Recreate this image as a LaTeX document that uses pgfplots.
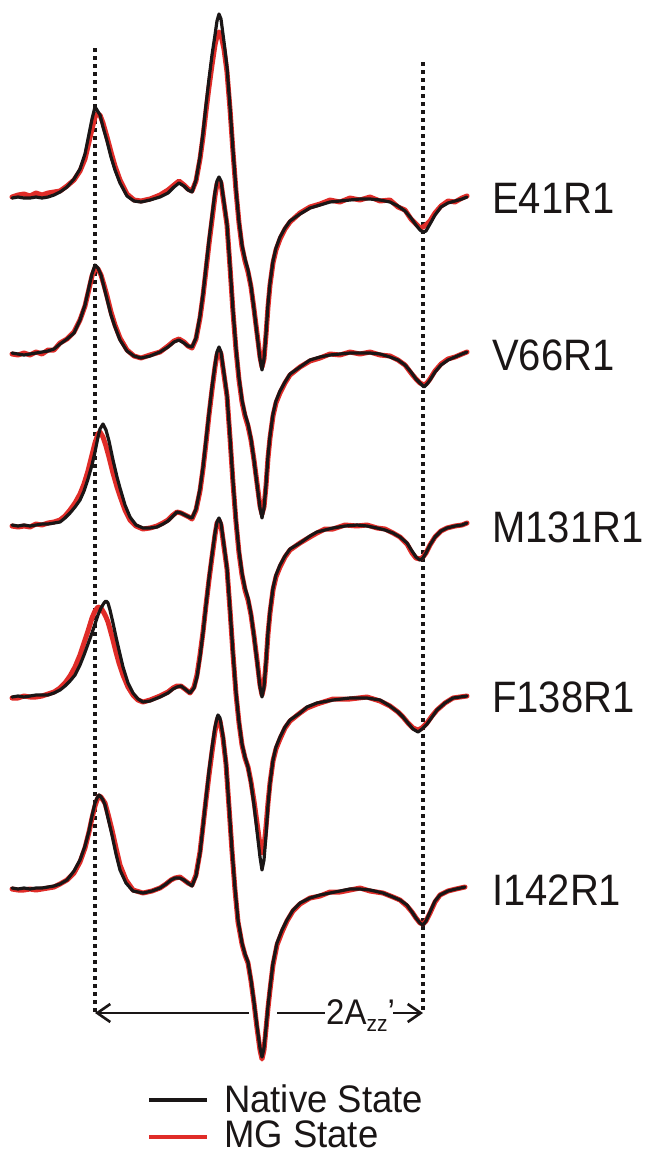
\documentclass[border=0pt]{standalone}
\usepackage{fontspec}
\setmainfont{Liberation Sans}
\usepackage{pgfplots}
\usepackage{pgfplotstable}
\pgfplotsset{compat=1.18}
\usetikzlibrary{arrows.meta}
\definecolor{mgred}{RGB}{224,44,40}
\definecolor{natblk}{RGB}{26,22,22}

% x in picture pixels, k = native (black), r = MG (red): offset from the trace baseline, downwards
\pgfplotstableread{
x k r
12 1 0
18 0 -2
24 1 -3
30 1 -1
36 0 -4
42 1 -2
48 0 -4
54 -2 -5
60 -5 -6
67 -10 -11
74 -18 -17
80 -28 -26
85 -43 -38
89 -63 -55
92 -78 -68
95 -90 -80
97 -87 -83
100 -82 -82
103 -70 -74
107 -56 -60
111 -40 -45
115 -27 -31
120 -14 -17
127 -1 -3
134 4 3
141 5 4
150 3 2
160 0 -2
168 -4 -7
174 -10 -12
179 -14 -16
184 -11 -12
188 -7 -8
192 -5 -6
196 -17 -16
200 -40 -38
203 -64 -60
206 -92 -86
209 -118 -110
212 -142 -132
215 -162 -152
217 -176 -161
219 -183 -165
221 -178 -162
224 -155 -148
227 -130 -125
230 -90 -88
233 -47 -45
236 -8 -6
239 25 26
242 48 50
245 62 64
248 73 75
251 89 90
254 112 112
257 137 136
260 162 160
262 173 170
264 162 162
266 137 138
268 107 110
270 86 88
273 64 66
276 51 53
280 40 42
285 31 32
290 24 25
300 17 16
310 11 10
320 8 7
330 5 3
340 4 5
350 3 1
360 2 3
370 2 0
380 3 4
390 5 3
398 9 10
405 14 13
411 21 22
416 28 27
420 33 31
423 35 30
426 34 28
430 27 24
435 18 16
441 10 9
448 6 4
455 4 5
462 2 1
467 0 -1
}\tA

\pgfplotstableread{
x k r
12 1 2
18 2 3
24 3 1
30 2 3
36 1 0
42 0 2
48 -1 -2
54 -3 -2
60 -8 -9
67 -13 -13
74 -19 -20
80 -32 -32
85 -47 -46
89 -65 -63
92 -78 -76
95 -87 -84
98 -84 -83
101 -77 -77
104 -65 -67
107 -53 -56
111 -37 -40
115 -25 -27
120 -12 -14
127 -1 -2
134 4 4
141 6 6
150 4 3
160 0 0
168 -5 -6
174 -10 -11
179 -12 -13
184 -9 -10
188 -6 -6
192 -5 -4
196 -14 -13
200 -36 -34
203 -58 -56
206 -85 -82
209 -112 -108
212 -136 -132
215 -160 -156
217 -171 -168
219 -175 -172
221 -171 -169
224 -150 -148
227 -128 -127
230 -86 -85
233 -42 -40
236 -4 -2
239 26 28
242 48 50
245 62 64
248 72 74
251 87 88
254 108 108
257 132 131
260 156 154
262 166 162
264 156 155
266 133 134
268 104 106
270 84 86
273 62 64
276 49 51
280 39 41
285 30 31
290 22 23
300 15 15
310 8 9
320 5 6
330 3 2
340 2 3
350 1 0
360 1 2
370 1 0
380 2 3
390 5 4
398 8 8
405 13 13
411 20 21
416 27 27
420 31 31
424 35 33
427 32 31
430 28 27
435 20 19
441 13 12
448 8 7
455 5 5
462 2 2
467 0 0
}\tB

\pgfplotstableread{
x k r
12 0 1
18 1 2
24 0 1
30 1 2
36 0 -1
42 -1 0
48 -1 -2
54 -2 -3
60 -3 -5
65 -7 -9
70 -12 -15
75 -18 -22
80 -25 -31
84 -34 -41
88 -46 -54
92 -60 -70
95 -73 -82
98 -88 -91
100 -96 -93
103 -101 -88
106 -95 -79
109 -84 -68
113 -65 -52
117 -48 -38
120 -37 -29
125 -20 -15
130 -8 -5
136 0 1
143 3 4
150 3 3
157 2 1
163 -1 -2
168 -4 -5
173 -9 -10
177 -13 -13
181 -12 -12
185 -10 -10
189 -8 -8
192 -7 -6
196 -16 -15
200 -36 -34
203 -58 -56
206 -85 -82
209 -112 -110
212 -138 -135
215 -160 -158
217 -173 -170
219 -178 -175
221 -173 -171
224 -152 -150
227 -130 -129
230 -88 -87
233 -44 -42
236 -5 -3
239 26 28
242 48 50
245 63 65
248 73 75
251 89 90
254 111 111
257 136 135
260 162 160
262 172 170
264 162 161
266 137 138
268 107 109
270 86 88
273 63 65
276 50 52
280 40 42
285 31 32
290 24 25
300 18 18
310 11 12
317 7 8
325 5 4
333 3 4
345 1 0
357 0 1
367 1 0
377 3 3
385 5 4
393 8 8
400 12 12
407 18 19
412 26 28
416 32 33
420 35 34
423 33 32
426 28 28
430 20 20
435 12 12
441 6 6
447 3 3
455 1 1
462 0 0
467 -2 -2
}\tC

\pgfplotstableread{
x k r
12 2 3
18 1 3
24 2 1
30 1 2
36 0 2
42 0 1
48 0 -1
54 -2 -3
60 -5 -7
65 -9 -12
70 -14 -19
75 -20 -28
80 -30 -40
84 -40 -52
88 -51 -64
92 -62 -77
95 -71 -84
98 -80 -88
101 -87 -87
104 -92 -82
106 -94 -78
108 -92 -73
110 -85 -66
113 -72 -55
116 -58 -43
119 -45 -32
123 -28 -20
128 -12 -8
133 -2 0
138 4 5
143 7 7
150 6 5
160 2 1
168 -2 -3
173 -6 -7
177 -8 -9
181 -9 -9
185 -6 -6
190 -2 -2
194 -7 -8
197 -18 -20
200 -38 -40
203 -62 -63
206 -90 -90
209 -117 -115
212 -140 -138
215 -162 -160
217 -173 -172
219 -177 -175
221 -172 -170
224 -150 -148
227 -127 -126
230 -86 -85
233 -42 -41
236 -3 -1
239 27 28
242 49 50
245 62 63
248 72 72
251 88 87
254 110 106
257 136 128
260 162 150
262 175 158
264 165 152
266 140 132
268 110 108
270 88 88
273 65 66
276 52 54
280 42 44
285 32 33
290 25 26
300 18 18
307 12 13
317 8 9
333 5 4
350 3 4
367 3 2
380 5 6
390 11 11
398 17 17
403 22 22
408 28 28
413 34 33
418 37 35
422 34 33
427 29 28
432 22 21
437 15 15
445 8 8
453 3 3
460 2 2
467 1 1
}\tD

\pgfplotstableread{
x k r
12 0 1
18 1 2
24 0 2
30 1 1
36 0 2
42 0 1
48 -1 0
54 -2 -1
60 -4 -4
67 -8 -8
74 -17 -15
80 -28 -26
85 -42 -40
89 -57 -56
92 -72 -70
95 -85 -82
97 -90 -88
99 -93 -92
101 -91 -91
103 -88 -88
105 -83 -85
108 -70 -74
112 -53 -58
116 -34 -40
120 -18 -23
126 -5 -8
133 3 2
143 5 5
152 3 3
160 0 0
166 -4 -4
171 -8 -8
175 -10 -10
180 -10 -11
184 -8 -8
188 -5 -5
192 -2 -3
196 -12 -13
200 -35 -36
203 -62 -62
206 -90 -88
209 -117 -113
212 -140 -136
215 -161 -157
217 -170 -167
218 -173 -170
220 -170 -167
223 -152 -150
226 -125 -124
229 -82 -81
232 -38 -37
235 0 2
238 32 34
242 55 56
245 66 67
248 74 75
251 92 93
254 114 115
257 138 140
260 160 162
262 169 171
264 160 162
266 140 141
268 118 120
270 100 102
273 75 77
277 55 57
282 42 44
287 32 33
293 22 23
300 15 16
310 10 10
320 7 8
330 5 4
340 3 4
350 1 2
360 1 0
370 2 3
383 5 5
393 9 9
400 12 12
407 17 18
412 24 24
416 30 30
420 35 35
423 37 36
426 33 33
430 24 25
435 13 14
440 7 7
448 3 3
456 1 1
465 -1 -1
}\tE

\begin{document}
\begin{tikzpicture}
\begin{axis}[
    scale only axis,
    width=652pt, height=1154pt,
    xmin=0, xmax=652, ymin=0, ymax=1154,
    y dir=reverse,
    hide axis, clip=false,
    every axis plot/.append style={line join=round, line cap=round},
]
% keep the whole canvas as the bounding box
\path (axis cs:0,0) rectangle (axis cs:652,1154);

% dotted guide lines at the outer hyperfine extrema
\addplot[natblk, line width=4pt, dash pattern=on 4pt off 4pt, line cap=butt] coordinates {(95,48) (95,1012)};
\addplot[natblk, line width=4pt, dash pattern=on 4pt off 4pt, line cap=butt] coordinates {(423,62) (423,1012)};

\addplot[mgred, line width=5pt] table[x=x, y expr=\thisrow{r}+197] {\tA};
\addplot[natblk, line width=3.2pt] table[x=x, y expr=\thisrow{k}+197] {\tA};
\addplot[mgred, line width=5pt] table[x=x, y expr=\thisrow{r}+352] {\tB};
\addplot[natblk, line width=3.2pt] table[x=x, y expr=\thisrow{k}+352] {\tB};
\addplot[mgred, line width=5pt] table[x=x, y expr=\thisrow{r}+525] {\tC};
\addplot[natblk, line width=3.2pt] table[x=x, y expr=\thisrow{k}+525] {\tC};
\addplot[mgred, line width=5pt] table[x=x, y expr=\thisrow{r}+695] {\tD};
\addplot[natblk, line width=3.2pt] table[x=x, y expr=\thisrow{k}+695] {\tD};
\addplot[mgred, line width=5pt] table[x=x, y expr=\thisrow{r}+888] {\tE};
\addplot[natblk, line width=3.2pt] table[x=x, y expr=\thisrow{k}+888] {\tE};

% labels
\foreach \lab/\yy in {E41R1/198, V66R1/355, M131R1/527, F138R1/697, I142R1/890} {
  \edef\tmp{\noexpand\node[anchor=west, inner sep=0pt, text=natblk] at (axis cs:492,\yy)
    {\noexpand\scalebox{1}[1.1]{\noexpand\fontsize{40}{40}\noexpand\selectfont \lab}};}
  \tmp
}

% 2Azz' arrow
\draw[natblk, line width=2.6pt, {Straight Barb[length=13pt,width=18pt]}-] (axis cs:95,1013) -- (axis cs:249,1013);
\draw[natblk, line width=2.6pt] (axis cs:277,1013) -- (axis cs:325,1013);
\draw[natblk, line width=2.6pt, -{Straight Barb[length=13pt,width=18pt]}] (axis cs:393,1013) -- (axis cs:423,1013);
\node[anchor=base west, inner sep=0pt, text=natblk] at (axis cs:326,1024)
  {\scalebox{1}[1.08]{\fontsize{33}{33}\selectfont 2A\raisebox{-7pt}{\fontsize{21}{21}\selectfont zz}'}};

% legend
\draw[natblk, line width=4.2pt] (axis cs:149,1100) -- (axis cs:207,1100);
\draw[mgred, line width=4.2pt] (axis cs:149,1137) -- (axis cs:207,1137);
\node[anchor=west, inner sep=0pt, text=natblk] at (axis cs:224,1099)
  {\scalebox{1}[1.05]{\fontsize{36.5}{37}\selectfont Native State}};
\node[anchor=west, inner sep=0pt, text=natblk] at (axis cs:224,1134)
  {\scalebox{1}[1.05]{\fontsize{36.5}{37}\selectfont MG State}};
\end{axis}
\end{tikzpicture}
\end{document}
